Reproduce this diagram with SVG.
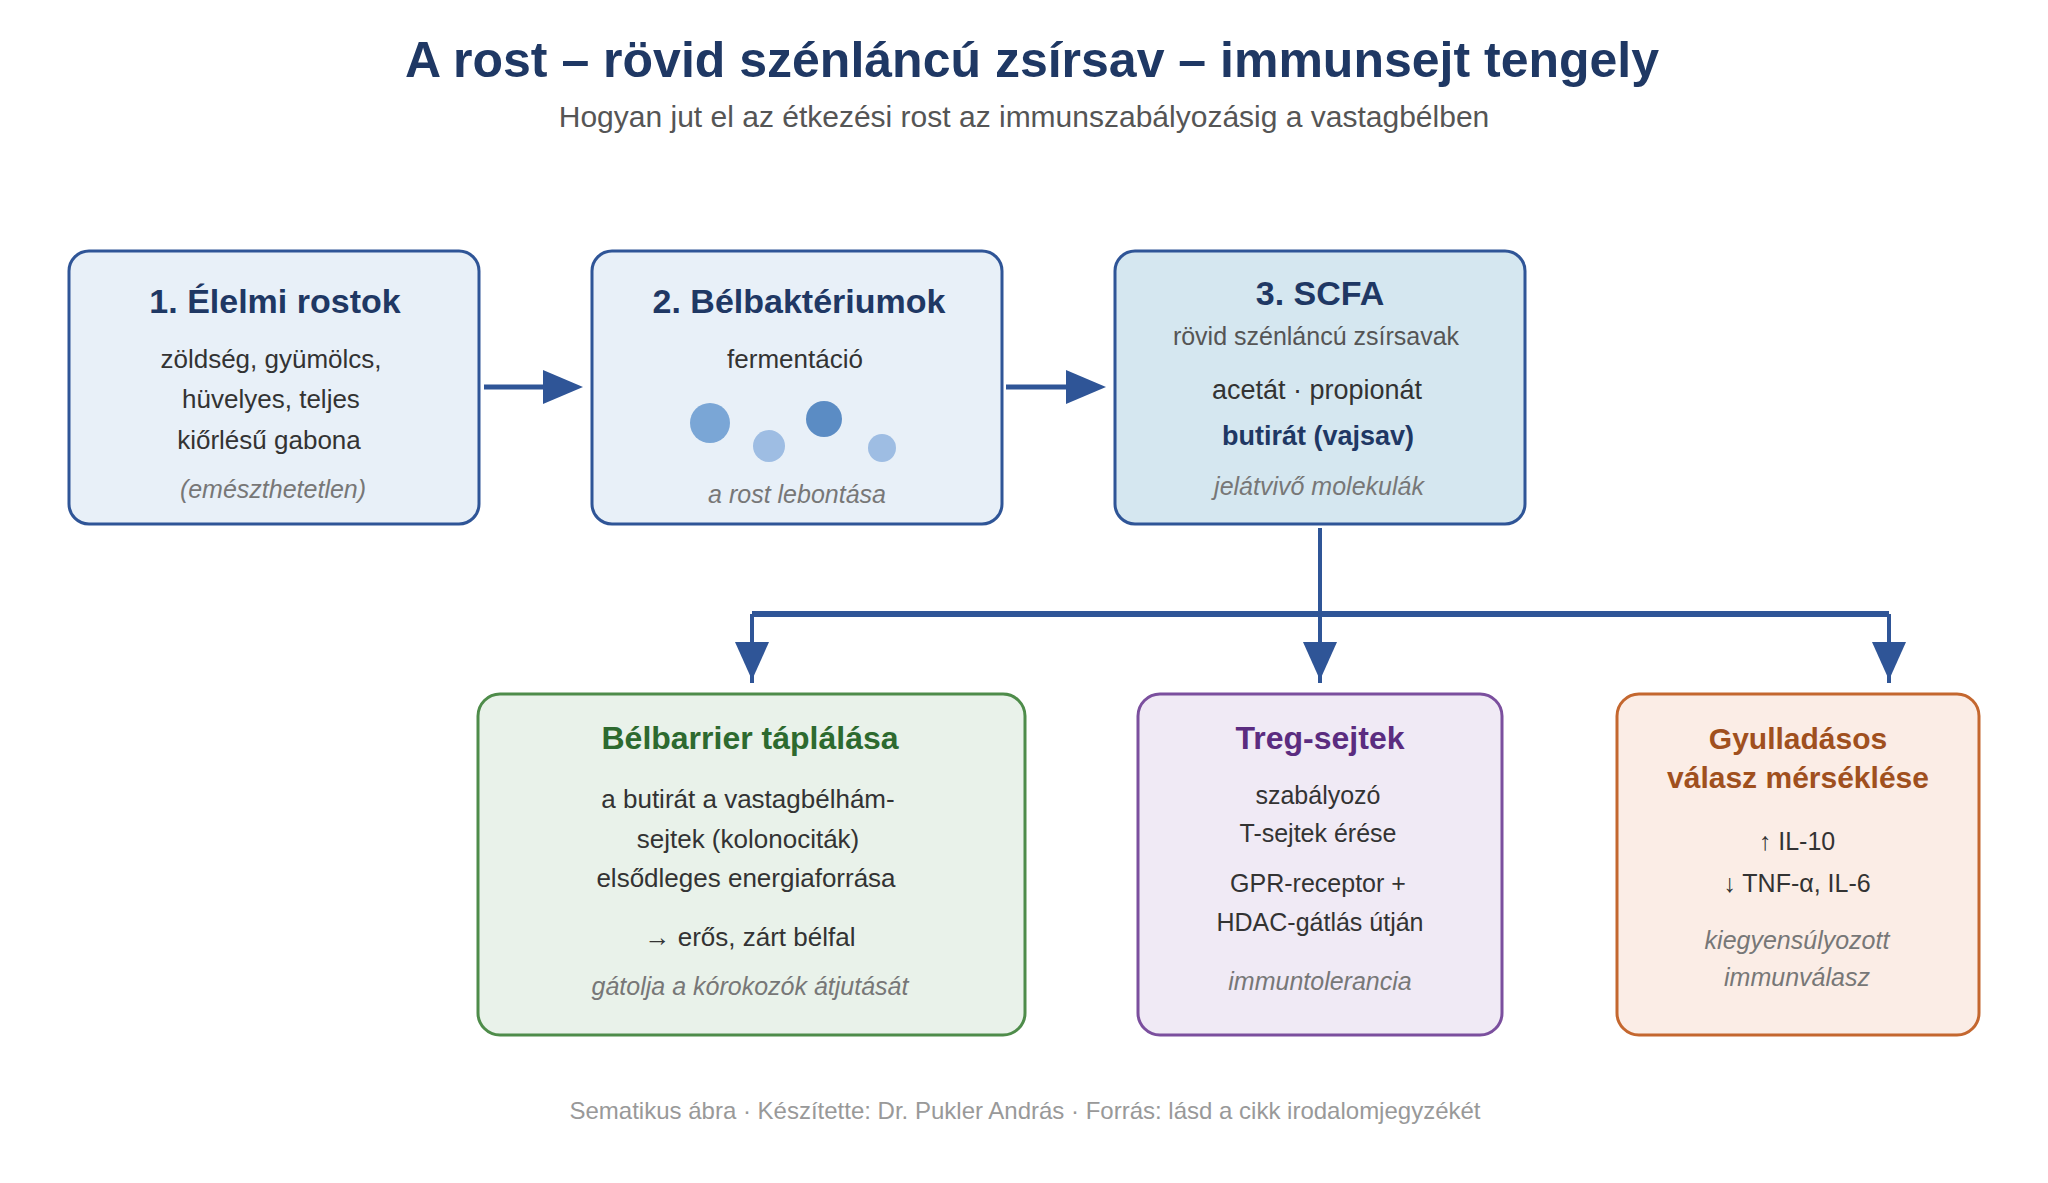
<svg xmlns="http://www.w3.org/2000/svg" width="2048" height="1183" viewBox="0 0 2048 1183">
<style>
text{font-family:"Liberation Sans",Arial,sans-serif;text-anchor:middle}
.title{font-size:50px;font-weight:bold;fill:#1f3864}
.sub{font-size:30px;fill:#555}
.h{font-size:32px;font-weight:bold}
.h34{font-size:34px;font-weight:bold}
.navy{fill:#1f3864}
.green{fill:#2d6a2f}
.purple{fill:#5b2c80}
.orange{fill:#a0501e}
.b{font-size:26px;fill:#333}
.b25{font-size:25px;fill:#333}
.s{font-size:25px;fill:#555}
.i{font-size:25px;font-style:italic;fill:#777}
.foot{font-size:24px;fill:#999}
.box{stroke-width:3}
.bl{fill:#e8f0f8;stroke:#2f5597}
.bl3{fill:#d5e7f0;stroke:#2f5597}
.gr{fill:#e9f2ea;stroke:#4e8c4a}
.pu{fill:#f0eaf5;stroke:#7b4f9e}
.or{fill:#fbede6;stroke:#c4672f}
.ln{stroke:#2f5597;fill:none}
.ah{fill:#2f5597}
</style>
<rect width="2048" height="1183" fill="#fff"/>
<text class="title" x="1032" y="77">A rost – rövid szénláncú zsírsav – immunsejt tengely</text>
<text class="sub" x="1024" y="127">Hogyan jut el az étkezési rost az immunszabályozásig a vastagbélben</text>

<g id="connectors">
<line class="ln" x1="484" y1="387" x2="548" y2="387" stroke-width="5"/>
<polygon class="ah" points="543,370 583,387 543,404"/>
<line class="ln" x1="1006" y1="387" x2="1070" y2="387" stroke-width="5"/>
<polygon class="ah" points="1066,370 1106,387 1066,404"/>
<line class="ln" x1="1320" y1="528" x2="1320" y2="683" stroke-width="4"/>
<line class="ln" x1="752" y1="614" x2="1889" y2="614" stroke-width="6"/>
<line class="ln" x1="752" y1="614" x2="752" y2="683" stroke-width="4"/>
<line class="ln" x1="1889" y1="614" x2="1889" y2="683" stroke-width="4"/>
<polygon class="ah" points="735,642 769,642 752,680"/>
<polygon class="ah" points="1303,642 1337,642 1320,680"/>
<polygon class="ah" points="1872,642 1906,642 1889,680"/>
</g>

<g id="node1">
<rect class="box bl" x="69" y="251" width="410" height="273" rx="20"/>
<text class="h34 navy" x="275" y="313">1. Élelmi rostok</text>
<text class="b" x="271" y="368">zöldség, gyümölcs,</text>
<text class="b" x="271" y="408">hüvelyes, teljes</text>
<text class="b" x="269" y="449">kiőrlésű gabona</text>
<text class="i" x="273" y="498">(emészthetetlen)</text>
</g>

<g id="node2">
<rect class="box bl" x="592" y="251" width="410" height="273" rx="20"/>
<text class="h34 navy" x="799" y="313">2. Bélbaktériumok</text>
<text class="b" x="795" y="368">fermentáció</text>
<circle cx="710" cy="423" r="20" fill="#7aa6d6"/>
<circle cx="769" cy="446" r="16" fill="#9ebde3"/>
<circle cx="824" cy="419" r="18" fill="#5b8cc4"/>
<circle cx="882" cy="448" r="14" fill="#9ebde3"/>
<text class="i" x="797" y="503">a rost lebontása</text>
</g>

<g id="node3">
<rect class="box bl3" x="1115" y="251" width="410" height="273" rx="20"/>
<text class="h34 navy" x="1320" y="305">3. SCFA</text>
<text class="s" x="1316" y="345">rövid szénláncú zsírsavak</text>
<text x="1317" y="399" style="font-size:27px;fill:#333">acetát · propionát</text>
<text class="navy" x="1318" y="445" style="font-size:27px;font-weight:bold">butirát (vajsav)</text>
<text class="i" x="1319" y="495">jelátvivő molekulák</text>
</g>

<g id="node4">
<rect class="box gr" x="478" y="694" width="547" height="341" rx="22"/>
<text class="h green" x="750" y="749">Bélbarrier táplálása</text>
<text class="b" x="748" y="808">a butirát a vastagbélhám-</text>
<text class="b" x="748" y="848">sejtek (kolonociták)</text>
<text class="b" x="746" y="887">elsődleges energiaforrása</text>
<text class="b" x="750" y="946">→ erős, zárt bélfal</text>
<text class="i" x="750" y="995">gátolja a kórokozók átjutását</text>
</g>

<g id="node5">
<rect class="box pu" x="1138" y="694" width="364" height="341" rx="22"/>
<text class="h purple" x="1320" y="749">Treg-sejtek</text>
<text class="b25" x="1318" y="804">szabályozó</text>
<text class="b25" x="1318" y="842">T-sejtek érése</text>
<text class="b25" x="1318" y="892">GPR-receptor +</text>
<text class="b25" x="1320" y="931">HDAC-gátlás útján</text>
<text class="i" x="1320" y="990">immuntolerancia</text>
</g>

<g id="node6">
<rect class="box or" x="1617" y="694" width="362" height="341" rx="22"/>
<text class="orange" x="1798" y="749" style="font-size:30px;font-weight:bold">Gyulladásos</text>
<text class="orange" x="1798" y="788" style="font-size:30px;font-weight:bold">válasz mérséklése</text>
<text class="b25" x="1797" y="850">↑ IL-10</text>
<text class="b25" x="1797" y="892">↓ TNF-α, IL-6</text>
<text class="i" x="1797" y="949">kiegyensúlyozott</text>
<text class="i" x="1797" y="986">immunválasz</text>
</g>

<text class="foot" x="1025" y="1119">Sematikus ábra · Készítette: Dr. Pukler András · Forrás: lásd a cikk irodalomjegyzékét</text>
</svg>
